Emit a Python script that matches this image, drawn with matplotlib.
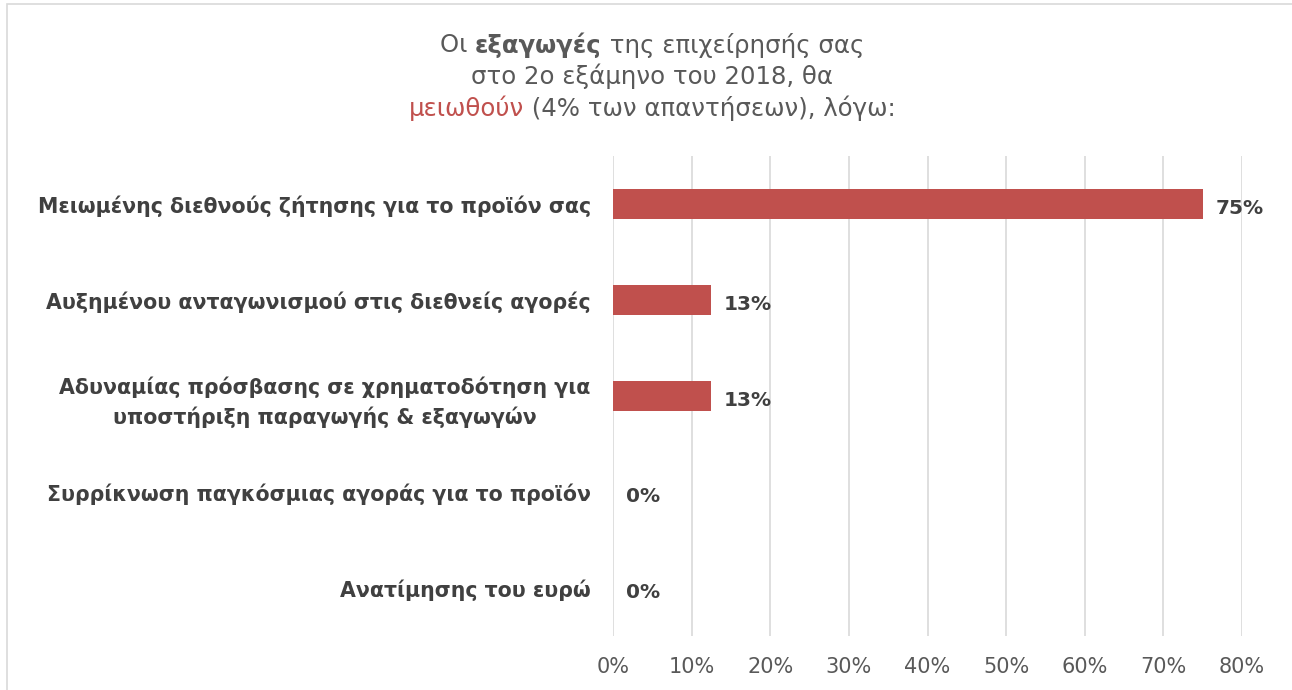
import matplotlib.pyplot as plt
from matplotlib.patches import Rectangle

categories = [
    "Μειωμένης διεθνούς ζήτησης για το προϊόν σας",
    "Αυξημένου ανταγωνισμού στις διεθνείς αγορές",
    "Αδυναμίας πρόσβασης σε χρηματοδότηση για\nυποστήριξη παραγωγής & εξαγωγών",
    "Συρρίκνωση παγκόσμιας αγοράς για το προϊόν",
    "Ανατίμησης του ευρώ",
]
values = [75, 12.5, 12.5, 0, 0]
value_labels = ["75%", "13%", "13%", "0%", "0%"]
ticks = [0, 10, 20, 30, 40, 50, 60, 70, 80]

bar_color = "#C0504D"
text_dark = "#404040"
text_grey = "#595959"

W, H = 1292, 690
fig = plt.figure(figsize=(W / 100, H / 100), dpi=100)
fig.patch.set_facecolor("white")
fig.patches.append(Rectangle((7 / W, -0.1), 1.2, (H - 4) / H + 0.1,
                             transform=fig.transFigure, fill=False,
                             edgecolor="#D9D9D9", linewidth=1.2))

ax = fig.add_axes([613 / W, (H - 636) / H, (1242 - 613) / W, (636 - 156) / H])
ypos = list(range(len(categories)))
ax.barh(ypos, values, height=0.32, color=bar_color, zorder=3)
ax.set_ylim(len(categories) - 0.5, -0.5)
ax.set_xlim(0, 80)
ax.set_xticks(ticks)
ax.set_xticklabels([f"{t}%" for t in ticks], color=text_grey, fontsize=15)
ax.set_yticks(ypos)
ax.set_yticklabels(categories, fontsize=14.8, fontweight="bold", color=text_dark,
                   multialignment="center", linespacing=1.5)
ax.tick_params(axis="both", length=0)
ax.tick_params(axis="x", pad=15)
ax.tick_params(axis="y", pad=16)
ax.grid(axis="x", color="#D9D9D9", linewidth=1.2, zorder=0)
for s in ax.spines.values():
    s.set_visible(False)

for y, v, lab in zip(ypos, values, value_labels):
    ax.text(v + 1.6, y + 0.05, lab, va="center", ha="left", fontsize=14.5,
            fontweight="bold", color=text_dark)

# title built from coloured / bold pieces
title_lines = [
    [("Οι ", "normal", text_grey), ("εξαγωγές", "bold", text_grey),
     (" της επιχείρησής σας", "normal", text_grey)],
    [("στο 2ο εξάμηνο του 2018, θα", "normal", text_grey)],
    [("μειωθούν", "normal", bar_color),
     (" (4% των απαντήσεων), λόγω:", "normal", text_grey)],
]
line_y = [45, 76, 108]
cx = 652
r = fig.canvas.get_renderer()
for pieces, yy in zip(title_lines, line_y):
    objs = []
    for txt, wt, col in pieces:
        t = fig.text(0, 1 - yy / H, txt, fontsize=17.6, fontweight=wt, color=col,
                     va="center", ha="left")
        objs.append(t)
    widths = [t.get_window_extent(r).width for t in objs]
    x = cx - sum(widths) / 2
    for t, w in zip(objs, widths):
        t.set_x(x / W)
        x += w

fig.savefig("out.png", dpi=100)
